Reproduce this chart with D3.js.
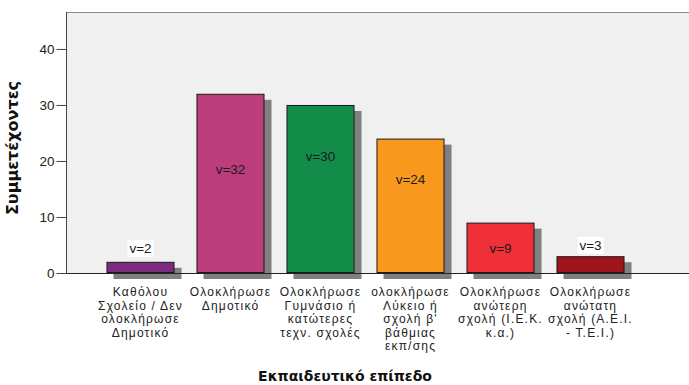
<!DOCTYPE html>
<html>
<head>
<meta charset="utf-8">
<script src="https://cdn.jsdelivr.net/npm/d3@7"></script>
<style>
  html, body { margin: 0; padding: 0; background: #ffffff; }
  svg { display: block; }
</style>
</head>
<body>
<svg id="chart" width="689" height="385"></svg>
<script>
// ---- data ----
const categories = [
  "Καθόλου Σχολείο / Δεν ολοκλήρωσε Δημοτικό",
  "Ολοκλήρωσε Δημοτικό",
  "Ολοκλήρωσε Γυμνάσιο ή κατώτερες τεχν. σχολές",
  "ολοκλήρωσε Λύκειο ή σχολή β' βάθμιας εκπ/σης",
  "Ολοκλήρωσε ανώτερη σχολή (Ι.Ε.Κ. κ.α.)",
  "Ολοκλήρωσε ανώτατη σχολή (Α.Ε.Ι. - Τ.Ε.Ι.)"
];
const tickLines = [
  ["Καθόλου", "Σχολείο / Δεν", "ολοκλήρωσε", "Δημοτικό"],
  ["Ολοκλήρωσε", "Δημοτικό"],
  ["Ολοκλήρωσε", "Γυμνάσιο ή", "κατώτερες", "τεχν. σχολές"],
  ["ολοκλήρωσε", "Λύκειο ή", "σχολή β'", "βάθμιας", "εκπ/σης"],
  ["Ολοκλήρωσε", "ανώτερη", "σχολή (Ι.Ε.Κ.", "κ.α.)"],
  ["Ολοκλήρωσε", "ανώτατη", "σχολή (Α.Ε.Ι.", "- Τ.Ε.Ι.)"]
];
const values = [2, 32, 30, 24, 9, 3];
const valueLabels = ["v=2", "v=32", "v=30", "v=24", "v=9", "v=3"];
const labelAt = [4.4, 18.6, 20.9, 16.8, 4.5, 4.95];       // label centre, in data units
const labelBoxed = [true, false, false, false, false, true];
const colors = ["#7e2a80", "#bb3d7b", "#138c4a", "#f8981d", "#ef3039", "#a0151b"];
const yTicks = [0, 10, 20, 30, 40];
const yMax = 46.6;
const yTitle = "Συμμετέχοντες";
const xTitle = "Εκπαιδευτικό επίπεδο";

// ---- layout ----
const plot = { left: 66, right: 689, top: 12, bottom: 273 };
const svg = d3.select("#chart");

const y = d3.scaleLinear().domain([0, yMax]).range([plot.bottom, plot.top]);
const x = d3.scaleBand().domain(categories).range([95.5, 635.5])
  .paddingInner(0.244).paddingOuter(0.122);

// plot background
svg.append("rect")
  .attr("x", plot.left).attr("y", plot.top)
  .attr("width", plot.right - plot.left).attr("height", plot.bottom - plot.top)
  .attr("fill", "#f0f0f0");
svg.append("line")
  .attr("x1", plot.left).attr("x2", plot.right)
  .attr("y1", plot.top + 0.5).attr("y2", plot.top + 0.5)
  .attr("stroke", "#8c8c8c").attr("stroke-width", 1);

// shadows
const shadowDx = 7, shadowDy = 6;
svg.append("g").selectAll("rect").data(values).join("rect")
  .attr("x", (d, i) => x(categories[i]) + shadowDx)
  .attr("y", d => y(d) + shadowDy)
  .attr("width", x.bandwidth())
  .attr("height", d => y(0) - y(d))
  .attr("fill", "#808080");

// bars
svg.append("g").selectAll("rect").data(values).join("rect")
  .attr("x", (d, i) => x(categories[i]) + 0.5)
  .attr("y", d => y(d) + 0.5)
  .attr("width", x.bandwidth() - 1)
  .attr("height", d => y(0) - y(d) - 1)
  .attr("fill", (d, i) => colors[i])
  .attr("stroke", "#1a1a1a").attr("stroke-width", 1);

// axes lines
svg.append("line")
  .attr("x1", plot.left).attr("x2", plot.right)
  .attr("y1", plot.bottom + 0.5).attr("y2", plot.bottom + 0.5)
  .attr("stroke", "#222").attr("stroke-width", 1);

const yAxis = d3.axisLeft(y).tickValues(yTicks).tickSize(10).tickPadding(2).tickSizeOuter(0);
const ga = svg.append("g").attr("transform", `translate(${plot.left + 0.5},0)`).call(yAxis);
ga.select(".domain").attr("d", `M0,${plot.top}V${plot.bottom + 1}`).attr("stroke", "#444");
ga.selectAll(".tick line").attr("stroke", "#444");
ga.selectAll(".tick text")
  .attr("fill", "#222")
  .style("font-family", "'Liberation Sans', Arial, sans-serif")
  .style("font-size", "13.5px");

// value labels
const lg = svg.append("g").selectAll("g").data(values).join("g")
  .attr("transform", (d, i) => `translate(${x(categories[i]) + x.bandwidth() / 2},${y(labelAt[i])})`);
lg.each(function (d, i) {
  const g = d3.select(this);
  if (labelBoxed[i]) {
    g.append("rect").attr("x", -13).attr("y", -8.5).attr("width", 26).attr("height", 17)
      .attr("fill", "#ffffff");
  }
  g.append("text")
    .attr("text-anchor", "middle")
    .attr("dy", "0.36em")
    .attr("fill", "#1a1a1a")
    .style("font-family", "'Liberation Sans', Arial, sans-serif")
    .style("font-size", "13.5px")
    .text(valueLabels[i]);
});

// category tick labels
const tg = svg.append("g").selectAll("text").data(categories).join("text")
  .attr("text-anchor", "middle")
  .attr("fill", "#222")
  .style("font-family", "'Liberation Sans', Arial, sans-serif")
  .style("font-size", "12px")
  .style("letter-spacing", "1.2px")
  .attr("transform", d => `translate(${x(d) + x.bandwidth() / 2},${plot.bottom + 23})`);
tg.each(function (d, i) {
  const t = d3.select(this);
  tickLines[i].forEach((line, j) => {
    t.append("tspan").attr("x", 0).attr("y", j * 13.5).text(line);
  });
});

// axis titles
svg.append("text")
  .attr("transform", `translate(18,148) rotate(-90)`)
  .attr("text-anchor", "middle")
  .attr("fill", "#111")
  .style("font-family", "'DejaVu Sans', sans-serif")
  .style("font-weight", "bold")
  .style("font-size", "16px")
  .text(yTitle);

svg.append("text")
  .attr("x", 345).attr("y", 381)
  .attr("text-anchor", "middle")
  .attr("fill", "#111")
  .style("font-family", "'DejaVu Sans', sans-serif")
  .style("font-weight", "bold")
  .style("font-size", "14px")
  .text(xTitle);
</script>
</body>
</html>
